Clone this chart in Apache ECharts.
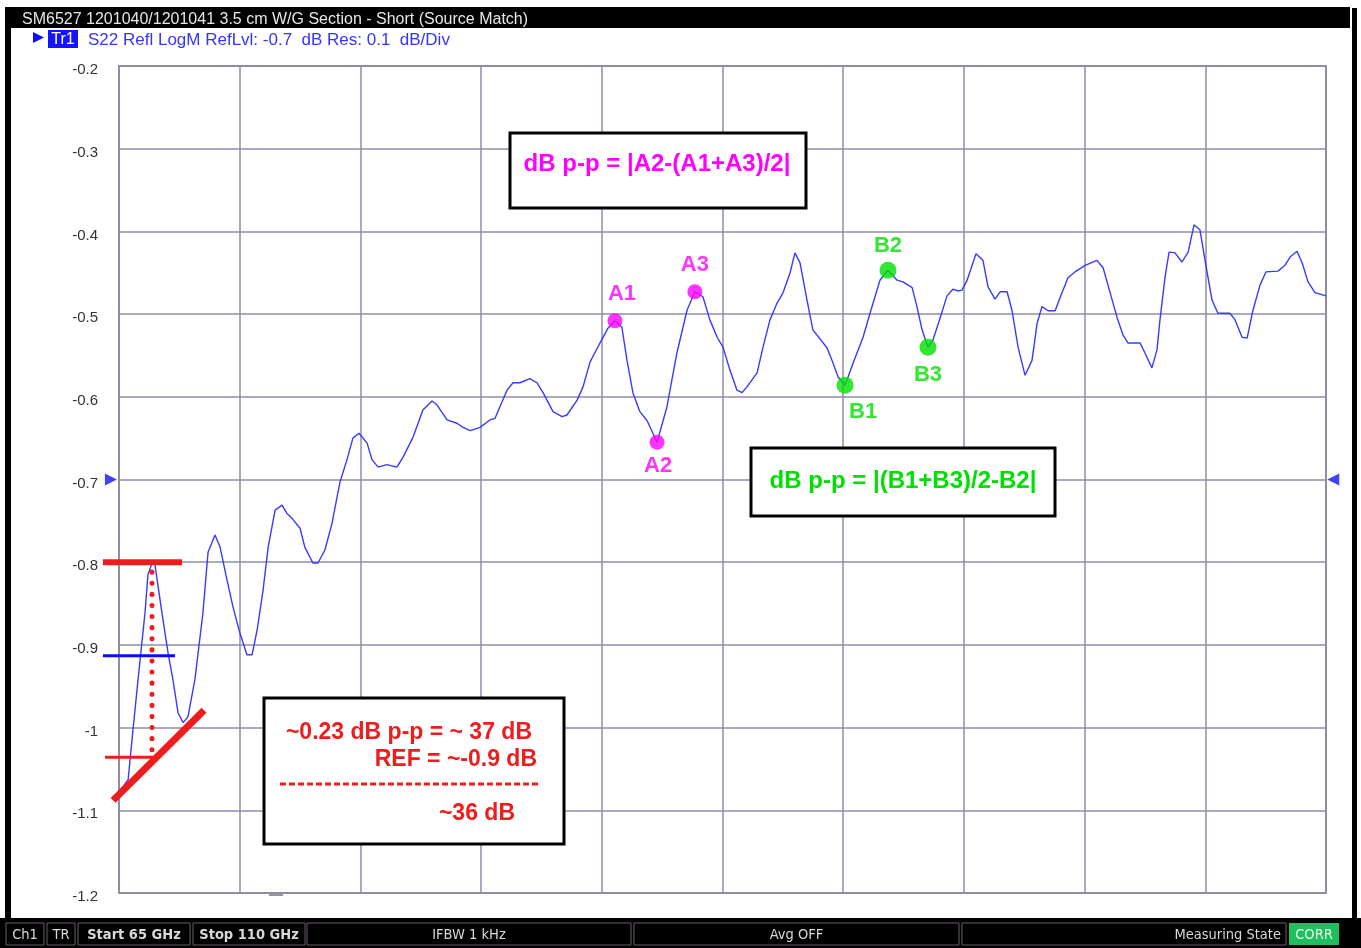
<!DOCTYPE html>
<html>
<head>
<meta charset="utf-8">
<title>S22 Source Match</title>
<script src="https://cdn.jsdelivr.net/npm/echarts@6/dist/echarts.min.js"></script>
<style>
  html, body { margin: 0; padding: 0; background: #fff; }
  #chart { width: 1361px; height: 948px; }
</style>
</head>
<body>
<div id="chart"></div>
<script>
// trace: frequency (GHz) and S22 (dB)
var freqGHz = [
  65.00, 65.34, 65.52, 65.71, 65.97, 66.08, 66.23, 66.34, 66.60, 66.83,
  67.01, 67.20, 67.39, 67.57, 67.83, 68.13, 68.32, 68.58, 68.77, 69.03,
  69.25, 69.51, 69.77, 69.96, 70.15, 70.37, 70.56, 70.82, 71.08, 71.26,
  71.45, 71.75, 71.93, 72.23, 72.42, 72.68, 72.94, 73.24, 73.50, 73.72,
  73.95, 74.25, 74.43, 74.66, 74.99, 75.36, 75.59, 75.96, 76.33, 76.67,
  76.86, 77.23, 77.60, 77.83, 78.09, 78.46, 78.83, 79.02, 79.20, 79.47,
  79.69, 79.95, 80.32, 80.58, 80.81, 81.18, 81.52, 81.70, 82.08, 82.30,
  82.56, 82.93, 83.23, 83.49, 83.75, 83.94, 84.16, 84.42, 84.69, 85.06,
  85.43, 85.80, 86.18, 86.47, 86.77, 87.03, 87.30, 87.52, 87.78, 88.04,
  88.23, 88.41, 88.79, 89.01, 89.27, 89.53, 89.76, 90.02, 90.20, 90.39,
  90.65, 90.87, 91.40, 91.62, 91.81, 92.07, 92.37, 92.74, 93.00, 93.37,
  93.67, 94.01, 94.23, 94.57, 94.75, 94.94, 95.16, 95.35, 95.61, 95.87,
  96.09, 96.28, 96.43, 96.62, 96.95, 97.21, 97.40, 97.66, 97.85, 98.11,
  98.29, 98.52, 98.78, 99.04, 99.23, 99.41, 99.64, 99.90, 100.16, 100.38,
  100.64, 101.02, 101.46, 101.69, 101.95, 102.21, 102.43, 102.62, 103.07, 103.25,
  103.51, 103.70, 103.81, 104.00, 104.15, 104.37, 104.63, 104.86, 105.08, 105.30,
  105.49, 105.75, 105.97, 106.42, 106.61, 106.87, 107.06, 107.28, 107.54, 107.76,
  108.21, 108.47, 108.66, 108.92, 109.11, 109.33, 109.59, 110.00
];
var s22dB = [
  -1.078, -1.063, -1.003, -0.942, -0.861, -0.815, -0.801, -0.803, -0.861, -0.910,
  -0.942, -0.982, -0.994, -0.987, -0.942, -0.861, -0.788, -0.767, -0.782, -0.822,
  -0.854, -0.886, -0.912, -0.912, -0.882, -0.834, -0.782, -0.737, -0.731, -0.741,
  -0.747, -0.759, -0.782, -0.801, -0.801, -0.785, -0.753, -0.703, -0.676, -0.650,
  -0.644, -0.656, -0.676, -0.685, -0.682, -0.685, -0.673, -0.649, -0.616, -0.605,
  -0.610, -0.628, -0.632, -0.637, -0.641, -0.637, -0.628, -0.626, -0.612, -0.592,
  -0.583, -0.583, -0.578, -0.583, -0.595, -0.618, -0.624, -0.622, -0.604, -0.588,
  -0.558, -0.535, -0.517, -0.508, -0.516, -0.556, -0.595, -0.618, -0.629, -0.655,
  -0.612, -0.547, -0.495, -0.473, -0.479, -0.507, -0.528, -0.540, -0.568, -0.592,
  -0.595, -0.588, -0.571, -0.540, -0.507, -0.487, -0.474, -0.450, -0.426, -0.438,
  -0.483, -0.519, -0.541, -0.559, -0.576, -0.586, -0.559, -0.528, -0.499, -0.459,
  -0.447, -0.459, -0.461, -0.468, -0.491, -0.519, -0.540, -0.531, -0.505, -0.478,
  -0.470, -0.472, -0.471, -0.459, -0.427, -0.435, -0.467, -0.482, -0.473, -0.473,
  -0.495, -0.540, -0.574, -0.556, -0.511, -0.491, -0.496, -0.496, -0.474, -0.456,
  -0.449, -0.441, -0.435, -0.444, -0.474, -0.504, -0.525, -0.535, -0.535, -0.547,
  -0.565, -0.543, -0.507, -0.455, -0.425, -0.426, -0.437, -0.425, -0.392, -0.398,
  -0.435, -0.483, -0.499, -0.499, -0.507, -0.528, -0.529, -0.495, -0.465, -0.449,
  -0.448, -0.441, -0.431, -0.424, -0.438, -0.461, -0.474, -0.478
];

// markers placed on the trace
var aNames = ['A1', 'A2', 'A3'];
var aFreq = [83.49, 85.06, 86.47];
var aDB = [-0.508, -0.655, -0.473];
var bNames = ['B1', 'B2', 'B3'];
var bFreq = [92.07, 93.67, 95.16];
var bDB = [-0.586, -0.447, -0.540];

// hand drawn marks on the first ripple (GHz, dB)
var peakLine = [[64.40, -0.800], [67.35, -0.800]];
var refLine = [[64.40, -0.913], [67.09, -0.913]];
var lowLine = [[64.48, -1.036], [66.27, -1.036]];
var slopeLine = [[64.78, -1.088], [68.17, -0.979]];
var dropLine = [[66.23, -0.812], [66.23, -1.030]];
var refLevel = -0.7;

var MAG = '#ff00ff';
var GRN = '#00e000';
var RED = '#ee1c1c';
var FONT = '"Liberation Sans", Arial, sans-serif';
var COND = '"DejaVu Sans Condensed", "Liberation Sans Narrow", sans-serif';

var trace = freqGHz.map(function (f, i) { return [f, s22dB[i]]; });

function markerData(names, fr, db, pos) {
  return names.map(function (n, i) {
    return {
      name: n,
      value: [fr[i], db[i]],
      label: { position: pos[i][0], offset: pos[i][1] }
    };
  });
}

// status bar cells: left, right, text, bold
var statusCells = [
  [6, 44, 'Ch1', false],
  [47, 75, 'TR', false],
  [78, 190, 'Start 65 GHz', true],
  [193, 305, 'Stop 110 GHz', true],
  [307, 631, 'IFBW 1 kHz', false],
  [634, 959, 'Avg OFF', false],
  [962, 1286, '', false]
];

var graphics = [
  // frame
  { type: 'rect', shape: { x: 5, y: 7, width: 6, height: 912 }, style: { fill: '#000' } },
  { type: 'rect', shape: { x: 1352, y: 8, width: 5, height: 911 }, style: { fill: '#000' } },
  { type: 'rect', shape: { x: 5, y: 7, width: 1345, height: 21 }, style: { fill: '#000' } },
  { type: 'text', style: { text: 'SM6527 1201040/1201041 3.5 cm W/G Section - Short (Source Match)',
      x: 22, y: 20, fill: '#e6e6e6', font: '16px ' + FONT, verticalAlign: 'middle' } },
  // trace header
  { type: 'polygon', shape: { points: [[33, 32], [44, 37.5], [33, 43]] }, style: { fill: '#1010ff' } },
  { type: 'rect', shape: { x: 48, y: 30, width: 30, height: 18 }, style: { fill: '#1414ff' } },
  { type: 'text', style: { text: 'Tr1', x: 63, y: 40, fill: '#fff', font: '16px ' + FONT,
      align: 'center', verticalAlign: 'middle' } },
  { type: 'text', style: { text: 'S22 Refl LogM RefLvl: -0.7  dB Res: 0.1  dB/Div',
      x: 88, y: 40, fill: '#3535ff', font: '17px ' + FONT, verticalAlign: 'middle' } },
  { type: 'line', shape: { x1: 269, y1: 895, x2: 283, y2: 895 }, style: { stroke: '#777', lineWidth: 1.5 } },

  // formula boxes
  { type: 'rect', shape: { x: 510, y: 133, width: 296, height: 75 }, style: { fill: '#fff', stroke: '#000', lineWidth: 3 } },
  { type: 'text', style: { text: 'dB p-p = |A2-(A1+A3)/2|', x: 657, y: 164, fill: MAG,
      font: 'bold 24px ' + FONT, align: 'center', verticalAlign: 'middle' } },
  { type: 'rect', shape: { x: 751, y: 448, width: 304, height: 68 }, style: { fill: '#fff', stroke: '#000', lineWidth: 3 } },
  { type: 'text', style: { text: 'dB p-p = |(B1+B3)/2-B2|', x: 903, y: 481, fill: GRN,
      font: 'bold 24px ' + FONT, align: 'center', verticalAlign: 'middle' } },

  // ripple estimate box
  { type: 'rect', shape: { x: 264, y: 698, width: 300, height: 146 }, style: { fill: '#fff', stroke: '#000', lineWidth: 3 } },
  { type: 'text', style: { text: '~0.23 dB p-p = ~ 37 dB', x: 532, y: 733, fill: RED,
      font: 'bold 23px ' + FONT, align: 'right', verticalAlign: 'middle' } },
  { type: 'text', style: { text: 'REF = ~-0.9 dB', x: 537, y: 760, fill: RED,
      font: 'bold 23px ' + FONT, align: 'right', verticalAlign: 'middle' } },
  { type: 'line', shape: { x1: 280, y1: 784, x2: 541, y2: 784 },
    style: { stroke: RED, lineWidth: 3, lineDash: [6, 3] } },
  { type: 'text', style: { text: '~36 dB', x: 515, y: 814, fill: RED,
      font: 'bold 23px ' + FONT, align: 'right', verticalAlign: 'middle' } },

  // status bar
  { type: 'rect', shape: { x: 0, y: 918, width: 1361, height: 30 }, style: { fill: '#000' } }
];

statusCells.forEach(function (c) {
  graphics.push({ type: 'rect', shape: { x: c[0], y: 923, width: c[1] - c[0], height: 22 },
    style: { fill: '#000', stroke: '#6a5a6a', lineWidth: 1 } });
  if (c[2]) {
    graphics.push({ type: 'text', style: { text: c[2], x: (c[0] + c[1]) / 2, y: 935, fill: '#d8d8d8',
      font: (c[3] ? 'bold ' : '') + '14.5px ' + COND, align: 'center', verticalAlign: 'middle' } });
  }
});
graphics.push({ type: 'text', style: { text: 'Measuring State', x: 1281, y: 935, fill: '#d8d8d8',
  font: '14.5px ' + COND, align: 'right', verticalAlign: 'middle' } });
graphics.push({ type: 'rect', shape: { x: 1289, y: 923, width: 50, height: 22 }, style: { fill: '#1fbf5f' } });
graphics.push({ type: 'text', style: { text: 'CORR', x: 1314, y: 935, fill: '#e8ffe8',
  font: '14.5px ' + COND, align: 'center', verticalAlign: 'middle' } });

graphics.forEach(function (g) { g.z = 100; g.silent = true; });

var chart = echarts.init(document.getElementById('chart'), null, { renderer: 'canvas' });

var option = {
  backgroundColor: '#fff',
  animation: false,
  grid: {
    left: 119, right: 35, top: 66, bottom: 55,
    show: true, borderColor: '#6c6c6c', borderWidth: 1.5, backgroundColor: 'transparent'
  },
  xAxis: [
    {
      // frequency axis that carries the data
      type: 'value', min: 65, max: 110, show: false
    },
    {
      // ten divisions across the screen for the grid
      type: 'value', min: 0, max: 10, interval: 1,
      axisLine: { show: false }, axisTick: { show: false }, axisLabel: { show: false },
      splitLine: { show: true, lineStyle: { color: '#8e8ea8', width: 1.5 } }
    }
  ],
  yAxis: {
    type: 'value', min: -1.2, max: -0.2, interval: 0.1,
    axisLine: { show: false }, axisTick: { show: false },
    axisLabel: {
      color: '#333', fontSize: 15, fontFamily: 'Liberation Sans', margin: 21,
      verticalAlign: 'top', lineHeight: 8
    },
    splitLine: { lineStyle: { color: '#8e8ea8', width: 1.5 } }
  },
  series: [
    {
      name: 'S22', type: 'line', xAxisIndex: 0, data: trace,
      symbol: 'none', z: 3,
      lineStyle: { color: '#3a3aff', width: 1.4 }
    },
    {
      name: 'A markers', type: 'scatter', xAxisIndex: 0, z: 6,
      symbolSize: 15, itemStyle: { color: MAG },
      data: markerData(aNames, aFreq, aDB, [['top', [7, -3]], ['bottom', [1, 0]], ['top', [0, -3]]]),
      label: {
        show: true, formatter: '{b}', color: MAG, fontSize: 22, fontWeight: 'bold',
        fontFamily: 'Liberation Sans', distance: 5
      }
    },
    {
      name: 'B markers', type: 'scatter', xAxisIndex: 0, z: 6,
      symbolSize: 17, itemStyle: { color: GRN },
      data: markerData(bNames, bFreq, bDB, [['bottom', [18, 2]], ['top', [0, 0]], ['bottom', [0, 3]]]),
      label: {
        show: true, formatter: '{b}', color: GRN, fontSize: 22, fontWeight: 'bold',
        fontFamily: 'Liberation Sans', distance: 5
      }
    },
    {
      // reference level arrows on both sides
      name: 'ref', type: 'scatter', xAxisIndex: 0, clip: false, silent: true, z: 6,
      symbol: 'triangle', symbolSize: [12, 12], itemStyle: { color: '#1010ff' },
      data: [
        { value: [64.70, refLevel], symbolRotate: -90 },
        { value: [110.27, refLevel], symbolRotate: 90 }
      ]
    }
  ],
  graphic: graphics
};

chart.setOption(option);

// the hand drawn marks reach left of the plot, so place them through the axes
function toPx(p) {
  return chart.convertToPixel({ xAxisIndex: 0, yAxisIndex: 0 }, p);
}
function markLineG(pts, color, width, dash) {
  var a = toPx(pts[0]);
  var b = toPx(pts[1]);
  var st = { stroke: color, lineWidth: width, lineCap: dash ? 'round' : 'butt' };
  if (dash) { st.lineDash = dash; }
  return { type: 'line', z: 50, silent: true, shape: { x1: a[0], y1: a[1], x2: b[0], y2: b[1] }, style: st };
}
var marks = [
  markLineG(peakLine, RED, 6),
  markLineG(refLine, '#0a0aff', 3),
  markLineG(lowLine, RED, 3),
  markLineG(dropLine, RED, 5, [0.1, 11]),
  markLineG(slopeLine, RED, 7)
];
chart.setOption({ graphic: graphics.concat(marks) });
</script>
</body>
</html>
